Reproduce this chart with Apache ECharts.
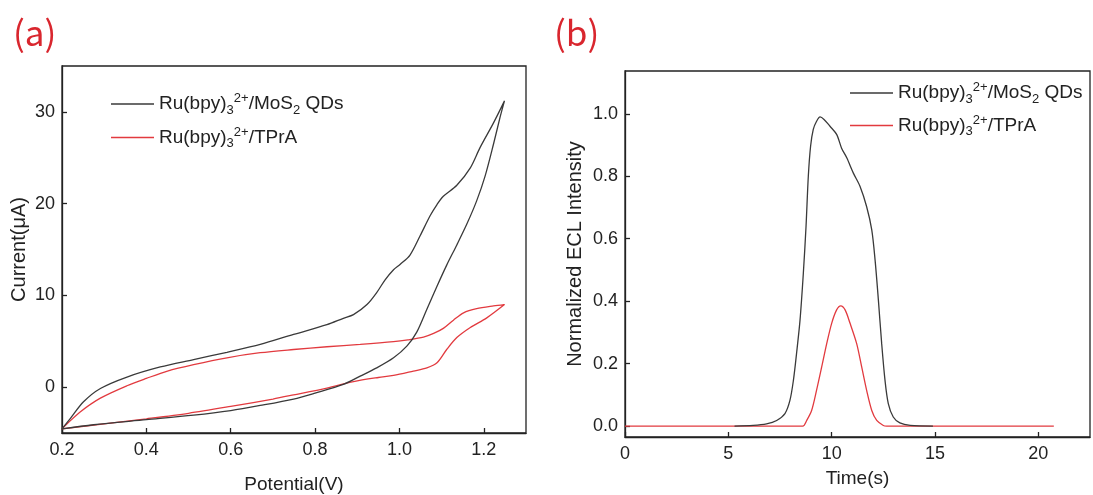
<!DOCTYPE html>
<html>
<head>
<meta charset="utf-8">
<script src="https://cdn.jsdelivr.net/npm/echarts@6/dist/echarts.min.js"></script>
<style>
html,body{margin:0;padding:0;background:#fff;}
#c{width:1093px;height:495px;}
</style>
</head>
<body>
<div id="c"></div>
<script>
// ---- Panel (a): cyclic voltammograms ----
const cvXTicks = [0.2, 0.4, 0.6, 0.8, 1.0, 1.2];
const cvYTicks = [0, 10, 20, 30];
const mosV = [0.2,0.275,0.4,0.512,0.6,0.67,0.749,0.8,0.867,0.907,0.946,0.986,1.018,1.041,1.065,1.089,1.112,1.136,1.16,1.183,1.203,1.223,1.239,1.249,
              1.223,1.191,1.168,1.136,1.104,1.089,1.073,1.049,1.025,1.002,0.986,0.966,0.946,0.923,0.891,0.867,0.828,0.749,0.67,0.591,0.512,0.433,0.354,0.291,0.251,0.22,0.2];
const mosI = [-4.55,-4.1,-3.55,-3.05,-2.55,-2.0,-1.3,-0.65,0.3,1.2,2.1,3.2,4.5,6.0,8.5,11.0,13.3,15.5,17.8,20.3,23.0,26.5,29.5,31.2,
              28.8,26.1,23.9,22.0,20.8,19.9,18.7,16.5,14.4,13.4,12.8,11.7,10.3,9.0,7.9,7.5,6.8,5.75,4.65,3.8,3.0,2.2,1.1,-0.15,-1.6,-3.4,-4.55];
const tpraV = [0.2,0.3,0.4,0.5,0.6,0.7,0.749,0.828,0.891,0.95,0.986,1.033,1.065,1.089,1.112,1.136,1.168,1.207,1.249,
               1.223,1.183,1.152,1.128,1.104,1.081,1.057,1.02,0.986,0.907,0.828,0.749,0.67,0.591,0.512,0.45,0.4,0.354,0.291,0.243,0.212,0.2];
const tpraI = [-4.55,-4.0,-3.45,-2.85,-2.1,-1.3,-0.85,-0.1,0.6,1.05,1.27,1.75,2.1,2.65,4.1,5.4,6.5,7.55,9.0,
               8.85,8.55,8.1,7.3,6.4,5.85,5.45,5.15,4.95,4.65,4.4,4.1,3.75,3.2,2.45,1.75,0.95,0.15,-1.2,-2.7,-4.0,-4.55];

// ---- Panel (b): ECL intensity vs time ----
const eclXTicks = [0, 5, 10, 15, 20];
const eclYTicks = [0, 0.2, 0.4, 0.6, 0.8, 1.0];
const mosT = [5.3,6.2,6.85,7.34,7.74,7.98,8.15,8.3,8.47,8.63,8.76,8.87,8.98,9.11,9.27,9.44,9.63,9.92,10.24,10.48,10.73,11.05,11.37,11.69,11.94,12.1,12.26,12.42,12.58,12.74,12.98,13.3,13.8,14.9];
const mosE = [0,0.002,0.007,0.018,0.04,0.082,0.147,0.232,0.34,0.49,0.64,0.8,0.896,0.95,0.976,0.99,0.982,0.96,0.934,0.89,0.859,0.81,0.768,0.703,0.628,0.532,0.404,0.264,0.147,0.072,0.029,0.01,0.002,0];
const tpraT = [0,8.6,8.79,9.03,9.27,9.52,9.76,10.0,10.24,10.44,10.65,10.89,11.21,11.45,11.69,11.94,12.18,12.5,12.66,20.75];
const tpraE = [0,0,0.018,0.05,0.115,0.19,0.264,0.329,0.372,0.385,0.372,0.329,0.264,0.19,0.115,0.05,0.018,0.002,0,0];

const nameMos = 'Ru(bpy)3 2+/MoS2 QDs';
const nameTpra = 'Ru(bpy)3 2+/TPrA';

function zip(a, b) { return a.map((v, i) => [v, b[i]]); }

const FONT = 'Liberation Sans';
const BLACK = '#3a3a3a';
const RED = '#e23a3f';
const AX = '#222';

const richStyles = {
  n: {fontSize: 19, fontFamily: FONT, color: AX},
  sub: {fontSize: 13, fontFamily: FONT, color: AX, padding: [12, 0, 0, 0]},
  sup: {fontSize: 13, fontFamily: FONT, color: AX, padding: [0, 0, 11, 0]}
};
function legendFmt(name) {
  if (name === nameMos) return '{n|Ru(bpy)}{sub|3}{sup|2+}{n|/MoS}{sub|2}{n| QDs}';
  return '{n|Ru(bpy)}{sub|3}{sup|2+}{n|/TPrA}';
}

function xAxisCfg(idx, min, max, ticks, name, gap, fmt) {
  return {
    type: 'value', gridIndex: idx, min: min, max: max,
    name: name, nameLocation: 'middle', nameGap: gap,
    nameTextStyle: {fontFamily: FONT, fontSize: 19, color: AX},
    axisLine: {show: true, onZero: false, lineStyle: {color: AX, width: 1.3}},
    axisTick: {show: true, inside: true, length: 5, customValues: ticks, lineStyle: {color: AX, width: 1.3}},
    axisLabel: {customValues: ticks, fontFamily: FONT, fontSize: 18, color: AX, margin: 8, formatter: fmt},
    splitLine: {show: false}
  };
}
function yAxisCfg(idx, min, max, ticks, name, gap, fmt, nameSize) {
  return {
    type: 'value', gridIndex: idx, min: min, max: max,
    name: name, nameLocation: 'middle', nameGap: gap, nameRotate: 90,
    nameTextStyle: {fontFamily: FONT, fontSize: nameSize, color: AX},
    axisLine: {show: true, onZero: false, lineStyle: {color: AX, width: 1.3}},
    axisTick: {show: true, inside: true, length: 5, customValues: ticks, lineStyle: {color: AX, width: 1.3}},
    axisLabel: {customValues: ticks, fontFamily: FONT, fontSize: 18, color: AX, margin: 7, formatter: fmt},
    splitLine: {show: false}
  };
}

const chart = echarts.init(document.getElementById('c'), null, {renderer: 'canvas'});
chart.setOption({
  backgroundColor: '#fff',
  animation: false,
  title: [
    {text: '(a)', left: 13, top: 15, padding: 0, textStyle: {fontFamily: 'Noto Sans CJK SC', fontSize: 35, fontWeight: 'normal', color: '#d9262e'}},
    {text: '(b)', left: 554, top: 15, padding: 0, textStyle: {fontFamily: 'Noto Sans CJK SC', fontSize: 35, fontWeight: 'normal', color: '#d9262e'}}
  ],
  grid: [
    {left: 62, top: 66, width: 464, height: 367, show: true, borderColor: AX, borderWidth: 1.3, backgroundColor: 'transparent', outerBoundsMode: 'none', containLabel: false},
    {left: 625, top: 71, width: 465, height: 366, show: true, borderColor: AX, borderWidth: 1.3, backgroundColor: 'transparent', outerBoundsMode: 'none', containLabel: false}
  ],
  legend: [
    {data: [nameMos, nameTpra], orient: 'vertical', left: 111, top: 92, padding: 0, itemGap: 9,
     itemWidth: 43, itemHeight: 1.4, icon: 'rect', selectedMode: false,
     formatter: legendFmt, textStyle: {lineHeight: 22, rich: richStyles}},
    {data: [nameMos, nameTpra], orient: 'vertical', left: 850, top: 81, padding: 0, itemGap: 8,
     itemWidth: 43, itemHeight: 1.4, icon: 'rect', selectedMode: false,
     formatter: legendFmt, textStyle: {lineHeight: 22, rich: richStyles}}
  ],
  xAxis: [
    xAxisCfg(0, 0.2, 1.3, cvXTicks, 'Potential(V)', 42, v => v.toFixed(1)),
    xAxisCfg(1, 0, 22.5, eclXTicks, 'Time(s)', 32, v => String(v))
  ],
  yAxis: [
    yAxisCfg(0, -5, 35, cvYTicks, 'Current(μA)', 33, v => String(v), 20),
    yAxisCfg(1, -0.035, 1.137, eclYTicks, 'Normalized ECL Intensity', 40, v => v.toFixed(1), 20)
  ],
  series: [
    {name: nameTpra, type: 'line', xAxisIndex: 0, yAxisIndex: 0, data: zip(tpraV, tpraI), showSymbol: false, smooth: 0.3,
     color: RED, lineStyle: {color: RED, width: 1.3}},
    {name: nameMos, type: 'line', xAxisIndex: 0, yAxisIndex: 0, data: zip(mosV, mosI), showSymbol: false, smooth: 0.3,
     color: BLACK, lineStyle: {color: BLACK, width: 1.3}},
    {name: nameTpra, type: 'line', xAxisIndex: 1, yAxisIndex: 1, data: zip(tpraT, tpraE), showSymbol: false, smooth: 0.3,
     color: RED, lineStyle: {color: RED, width: 1.3}},
    {name: nameMos, type: 'line', xAxisIndex: 1, yAxisIndex: 1, data: zip(mosT, mosE), showSymbol: false, smooth: 0.3,
     color: BLACK, lineStyle: {color: BLACK, width: 1.3}}
  ]
});
</script>
</body>
</html>
